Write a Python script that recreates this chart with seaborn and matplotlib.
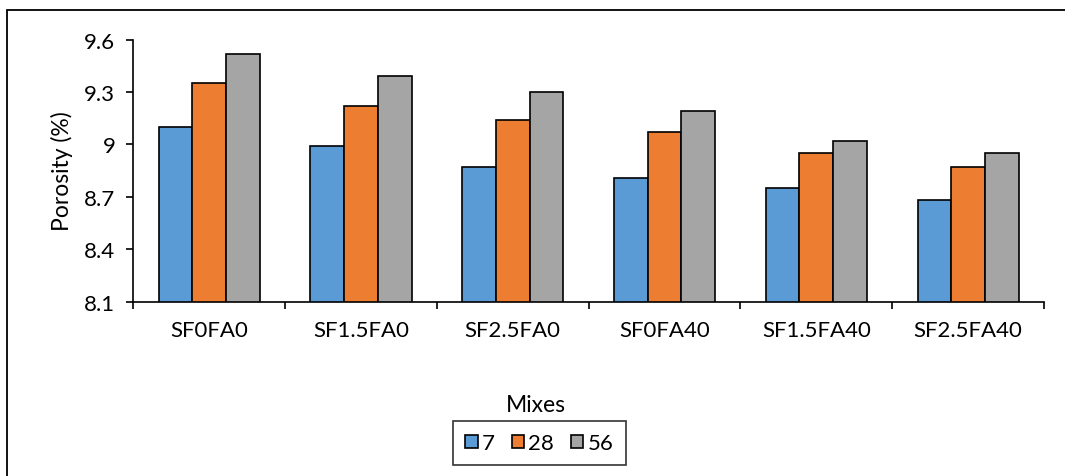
import matplotlib.pyplot as plt
import seaborn as sns
import pandas as pd
from matplotlib.patches import Rectangle, Patch

# Data
mixes = ["SF0FA0", "SF1.5FA0", "SF2.5FA0", "SF0FA40", "SF1.5FA40", "SF2.5FA40"]
ages = ["7", "28", "56"]
porosity_7 = [9.10, 8.99, 8.87, 8.81, 8.75, 8.68]
porosity_28 = [9.35, 9.22, 9.14, 9.07, 8.95, 8.87]
porosity_56 = [9.52, 9.39, 9.30, 9.19, 9.02, 8.95]
colors = ["#5B9BD5", "#ED7D31", "#A5A5A5"]
yticks = [8.1, 8.4, 8.7, 9.0, 9.3, 9.6]
ytick_labels = ["8.1", "8.4", "8.7", "9", "9.3", "9.6"]

rows = []
for age, vals in zip(ages, [porosity_7, porosity_28, porosity_56]):
    for mix, v in zip(mixes, vals):
        rows.append({"Mix": mix, "Age": age, "Porosity": v})
df = pd.DataFrame(rows)

sns.set_style("white")
plt.rcParams["font.family"] = ["Lato", "DejaVu Sans"]
plt.rcParams["text.color"] = "black"
plt.rcParams["axes.labelcolor"] = "black"
plt.rcParams["xtick.color"] = "black"
plt.rcParams["ytick.color"] = "black"

fig = plt.figure(figsize=(10.65, 4.77), dpi=100)
ax = fig.add_axes([0.1252, 0.3658, 0.8551, 0.5489])

sns.barplot(data=df, x="Mix", y="Porosity", hue="Age", order=mixes,
            hue_order=ages, palette=colors, width=0.667, edgecolor="black",
            linewidth=1.2, saturation=1, legend=False, ax=ax)

ax.set_ylim(8.1, 9.6)
ax.set_xlim(-0.5, len(mixes) - 0.5)
ax.set_yticks(yticks)
ax.set_yticklabels(ytick_labels)
ax.set_xticks(range(len(mixes)))
ax.set_xticklabels(mixes)
ax.set_xticks([i - 0.5 for i in range(len(mixes) + 1)], minor=True)
ax.tick_params(axis="x", which="major", length=0, pad=13, labelsize=16)
ax.tick_params(axis="x", which="minor", length=5, width=1.2, direction="out")
ax.tick_params(axis="y", length=5, width=1.2, direction="out",
               labelsize=16, pad=8)
ax.yaxis.set_ticks_position("left")
ax.xaxis.set_ticks_position("bottom")

for side in ["top", "right"]:
    ax.spines[side].set_visible(False)
for side in ["left", "bottom"]:
    ax.spines[side].set_color("black")
    ax.spines[side].set_linewidth(1.2)

ax.set_ylabel("Porosity (%)", fontsize=16.5, labelpad=8)
ax.set_xlabel("Mixes", fontsize=16.5)
ax.xaxis.set_label_coords(0.442, -0.355)

handles = [Patch(facecolor=c, edgecolor="black", linewidth=1.2) for c in colors]
leg = fig.legend(handles, ages, loc="center", bbox_to_anchor=(0.5066, 0.069),
                 ncol=3, fontsize=16, frameon=True, fancybox=False,
                 handlelength=0.55, handleheight=0.55, handletextpad=0.2,
                 columnspacing=0.75, borderpad=0.55)
leg.get_frame().set_edgecolor("black")
leg.get_frame().set_linewidth(1.2)

# outer chart border (clipped at the right and bottom edges)
fig.patches.append(Rectangle((0.0063, -0.05), 1.05, 0.977 + 0.05,
                             transform=fig.transFigure, fill=False,
                             edgecolor="black", linewidth=1.3))

fig.savefig("out.png", dpi=100)
plt.close(fig)
